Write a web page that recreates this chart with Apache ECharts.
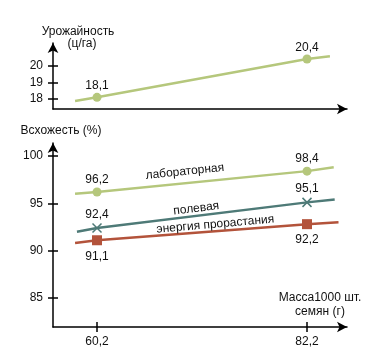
<!DOCTYPE html>
<html><head><meta charset="utf-8">
<script src="https://cdn.jsdelivr.net/npm/echarts@6/dist/echarts.min.js"></script>
<style>html,body{margin:0;padding:0;background:#fff}#c{width:384px;height:356px}</style>
</head><body><div id="c"></div>
<script>
// ---- data ----
const massX = [60.2, 82.2];
const massLabels = ['60,2', '82,2'];
const yieldTicks = [18, 19, 20];
const germTicks = [85, 90, 95, 100];

const yieldVals = [18.1, 20.4];
const yieldLabels = ['18,1', '20,4'];
const yieldEnds = [[57.9, 17.88], [84.6, 20.56]];

const labVals = [96.2, 98.4];
const labLabels = ['96,2', '98,4'];
const labEnds = [[57.9, 96.0], [85.0, 98.8]];

const fieldVals = [92.4, 95.1];
const fieldLabels = ['92,4', '95,1'];
const fieldEnds = [[58.1, 92.0], [85.1, 95.4]];

const energyVals = [91.1, 92.8];
const energyLabels = ['91,1', '92,2'];
const energyEnds = [[57.9, 90.8], [85.5, 93.0]];

const tagNames = ['лабораторная', 'полевая', 'энергия прорастания'];
const tagPos = [[69.4, 98.35], [70.6, 94.45], [72.6, 92.78]];

// ---- styles ----
const FONT = "'Liberation Sans', Arial, sans-serif";
const TXT = '#111';
const GREEN = '#b5c77c';
const TEAL = '#4e7a77';
const RED = '#b3533b';
const XMIN = 55.59, XMAX = 86.39;

function xAxes(grid, withTicks) {
  const base = {
    type: 'value', gridIndex: grid, min: XMIN, max: XMAX, position: 'bottom',
    splitLine: { show: false }
  };
  return [
    Object.assign({}, base, {
      axisLine: { show: true, symbol: ['none', 'arrow'], symbolSize: [8, 10], lineStyle: { color: '#000', width: 1.5 } },
      axisTick: { show: withTicks, inside: false, length: 5, customValues: massX, lineStyle: { color: '#000', width: 1.5 } },
      axisLabel: { show: withTicks, customValues: massX, margin: 9, fontSize: 12, fontFamily: FONT, color: TXT,
        formatter: v => massLabels[massX.indexOf(v)] || '' }
    }),
    Object.assign({}, base, {
      axisLine: { show: false },
      axisTick: { show: withTicks, inside: true, length: 5, customValues: massX, lineStyle: { color: '#000', width: 1.5 } },
      axisLabel: { show: false }
    })
  ];
}
function yAxes(grid, min, max, ticks) {
  const base = { type: 'value', gridIndex: grid, min: min, max: max, position: 'left', offset: 0, splitLine: { show: false } };
  return [
    Object.assign({}, base, {
      axisLine: { show: true, symbol: ['none', 'arrow'], symbolSize: [8, 10], lineStyle: { color: '#000', width: 1.5 } },
      axisTick: { show: true, inside: false, length: 5, customValues: ticks, lineStyle: { color: '#000', width: 1.5 } },
      axisLabel: { show: true, customValues: ticks, margin: 10, fontSize: 12, fontFamily: FONT, color: TXT }
    }),
    Object.assign({}, base, {
      axisLine: { show: false },
      axisTick: { show: true, inside: true, length: 5, customValues: ticks, lineStyle: { color: '#000', width: 1.5 } },
      axisLabel: { show: false }
    })
  ];
}

function lineSeries(xi, yi, vals, labels, ends, color, symbol, size, pos, dist, itemStyle, tag) {
  const data = [{ value: ends[0], symbol: 'none', label: { show: false } }];
  vals.forEach((v, i) => data.push({ value: [massX[i], v], label: { show: true, formatter: labels[i] } }));
  data.push({ value: ends[1], symbol: 'none', label: { show: false } });
  const s = {
    type: 'line', xAxisIndex: xi, yAxisIndex: yi, data: data,
    symbol: symbol, symbolSize: size, showSymbol: true,
    lineStyle: { color: color, width: 2.5 },
    itemStyle: itemStyle,
    label: { position: pos, distance: dist, fontSize: 12, fontFamily: FONT, color: TXT },
    emphasis: { disabled: true }, animation: false, z: 3
  };
  if (tag !== undefined) {
    s.markPoint = {
      symbol: 'circle', symbolSize: 0, animation: false,
      data: [{ coord: tagPos[tag], name: tagNames[tag] }],
      label: { show: true, position: 'inside', formatter: tagNames[tag], rotate: [6, 7, 5][tag],
        fontSize: 12, fontFamily: FONT, color: TXT }
    };
  }
  return s;
}

const xs = xAxes(0, false).concat(xAxes(1, true));
const ys = yAxes(0, 17.40, 21.36, yieldTicks).concat(yAxes(1, 81.94, 101.37, germTicks));

const option = {
  backgroundColor: '#fff',
  animation: false,
  grid: [
    { left: 53, top: 43, width: 294, height: 66 },
    { left: 53, top: 143, width: 294, height: 184 }
  ],
  xAxis: xs,
  yAxis: ys,
  series: [
    lineSeries(0, 0, yieldVals, yieldLabels, yieldEnds, GREEN, 'circle', 9, 'top', 1, { color: GREEN }),
    lineSeries(2, 2, labVals, labLabels, labEnds, GREEN, 'circle', 9, 'top', 2, { color: GREEN }, 0),
    lineSeries(2, 2, fieldVals, fieldLabels, fieldEnds, TEAL, 'path://M0,0L10,10M10,0L0,10', 9, 'top', 2,
      { color: TEAL, borderColor: TEAL, borderWidth: 1.5 }, 1),
    lineSeries(2, 2, energyVals, energyLabels, energyEnds, RED, 'rect', 10, 'bottom', 5, { color: RED }, 2)
  ],
  graphic: [
    { type: 'text', x: 78, y: 32, style: { text: 'Урожайность', font: '12px ' + FONT, fill: TXT, align: 'center', verticalAlign: 'middle' } },
    { type: 'text', x: 82, y: 44, style: { text: '(ц/га)', font: '12px ' + FONT, fill: TXT, align: 'center', verticalAlign: 'middle' } },
    { type: 'text', x: 61, y: 131, style: { text: 'Всхожесть (%)', font: '12px ' + FONT, fill: TXT, align: 'center', verticalAlign: 'middle' } },
    { type: 'text', x: 320, y: 298, style: { text: 'Масса1000 шт.', font: '12px ' + FONT, fill: TXT, align: 'center', verticalAlign: 'middle' } },
    { type: 'text', x: 320, y: 312, style: { text: 'семян (г)', font: '12px ' + FONT, fill: TXT, align: 'center', verticalAlign: 'middle' } }
  ]
};
const chart = echarts.init(document.getElementById('c'), null, { renderer: 'canvas' });
chart.setOption(option);
</script>
</body></html>
